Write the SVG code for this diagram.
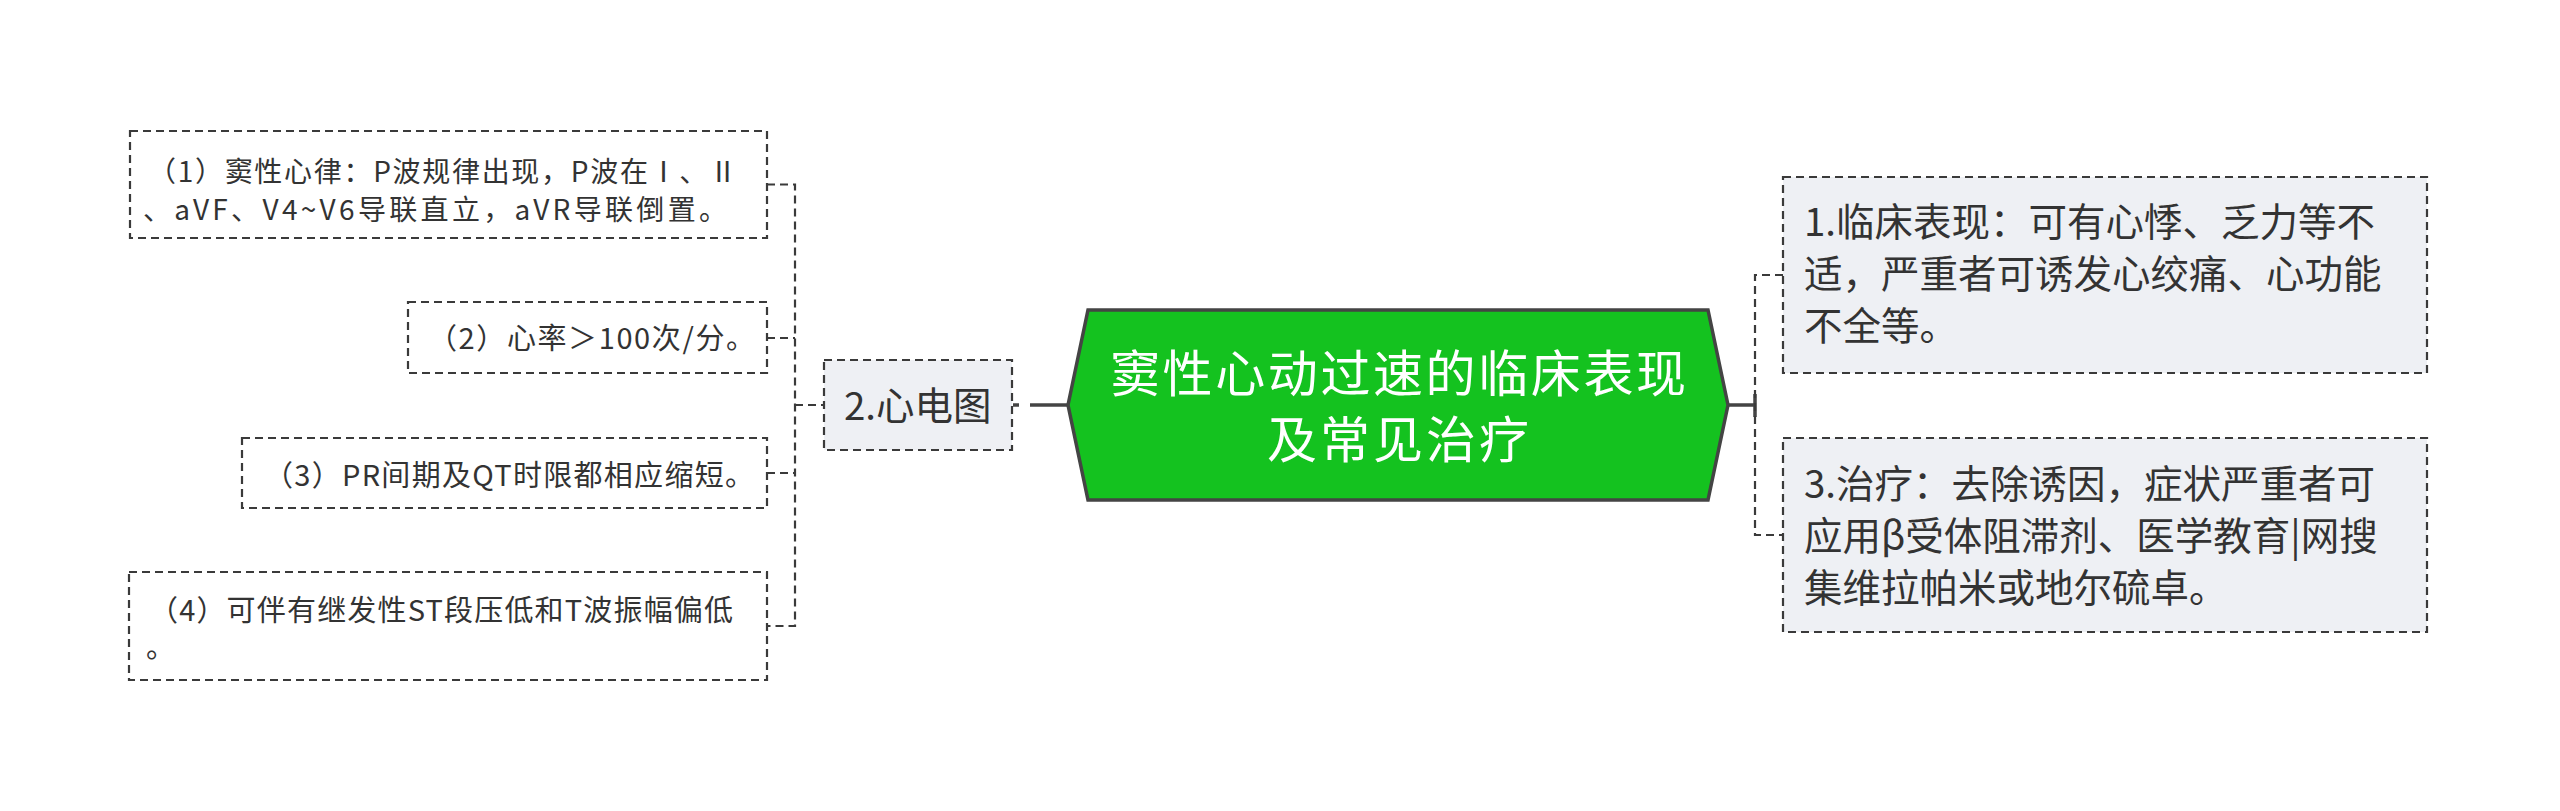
<svg xmlns="http://www.w3.org/2000/svg" width="2560" height="811" viewBox="0 0 2560 811">
<style>
text{font-family:"Noto Sans CJK SC","Noto Sans",sans-serif;fill:#333333}
.sub{fill:#ffffff;stroke:#3a3a3a;stroke-width:2.2;stroke-dasharray:8 5}
.lvl1{fill:#eef0f4;stroke:#3a3a3a;stroke-width:2.2;stroke-dasharray:8 5}
.t2{font-size:29px}
.t2s{font-size:28px}
.t1{font-size:38.5px}
.tm{font-size:50px;fill:#ffffff}
.dash{fill:none;stroke:#3a3a3a;stroke-width:2.2;stroke-dasharray:8 5}
.solid{fill:none;stroke:#444444;stroke-width:3.5}
</style>
<rect width="2560" height="811" fill="#ffffff"/>
<g id="connectors">
<path class="dash" d="M767,184.5 H795 V626 H767"/>
<path class="dash" d="M767,338 H795"/>
<path class="dash" d="M767,473 H795"/>
<path class="dash" d="M795,405 H824"/>
<path class="solid" d="M1013,405 H1019"/>
<path class="solid" d="M1030,405 H1068"/>
<path class="solid" d="M1727,405 H1755 M1755,394 V417"/>
<path class="dash" d="M1783,275 H1755 V535 H1783"/>
</g>
<g id="main">
<polygon points="1068,405 1088,310 1708,310 1728,405 1708,500 1088,500" fill="#14c21f" stroke="#444444" stroke-width="3.5"/>
<text class="tm" x="1398" y="391.5" text-anchor="middle" textLength="576" lengthAdjust="spacing">窦性心动过速的临床表现</text>
<text class="tm" x="1398" y="457.5" text-anchor="middle" textLength="262" lengthAdjust="spacing">及常见治疗</text>
</g>
<g id="ecg">
<rect class="lvl1" x="824" y="360" width="188" height="90"/>
<text class="t1" x="844" y="419.5">2.心电图</text>
</g>
<g id="ecg1">
<rect class="sub" x="130" y="131" width="637" height="107"/>
<text class="t2s" x="148" y="182" textLength="589" lengthAdjust="spacing">（1）窦性心律：P波规律出现，P波在Ⅰ、Ⅱ</text>
<text class="t2s" x="143" y="219.5" textLength="584" lengthAdjust="spacing">、aVF、V4~V6导联直立，aVR导联倒置。</text>
</g>
<g id="ecg2">
<rect class="sub" x="408" y="302" width="359" height="71"/>
<text class="t2" x="428" y="349" textLength="327" lengthAdjust="spacing">（2）心率＞100次/分。</text>
</g>
<g id="ecg3">
<rect class="sub" x="242" y="438" width="525" height="70"/>
<text class="t2" x="264" y="486" textLength="490" lengthAdjust="spacing">（3）PR间期及QT时限都相应缩短。</text>
</g>
<g id="ecg4">
<rect class="sub" x="129" y="572" width="638" height="108"/>
<text class="t2" x="149" y="621" textLength="584" lengthAdjust="spacing">（4）可伴有继发性ST段压低和T波振幅偏低</text>
<text class="t2" x="146" y="658">。</text>
</g>
<g id="clinical">
<rect class="lvl1" x="1783" y="177" width="644" height="196"/>
<text class="t1"><tspan x="1804" y="236">1.临床表现：可有心悸、乏力等不</tspan><tspan x="1804" y="288">适，严重者可诱发心绞痛、心功能</tspan><tspan x="1804" y="340">不全等。</tspan></text>
</g>
<g id="treatment">
<rect class="lvl1" x="1783" y="438" width="644" height="194"/>
<text class="t1"><tspan x="1804" y="497.5">3.治疗：去除诱因，症状严重者可</tspan><tspan x="1804" y="549.5">应用β受体阻滞剂、医学教育|网搜</tspan><tspan x="1804" y="601.5">集维拉帕米或地尔硫卓。</tspan></text>
</g>
</svg>
